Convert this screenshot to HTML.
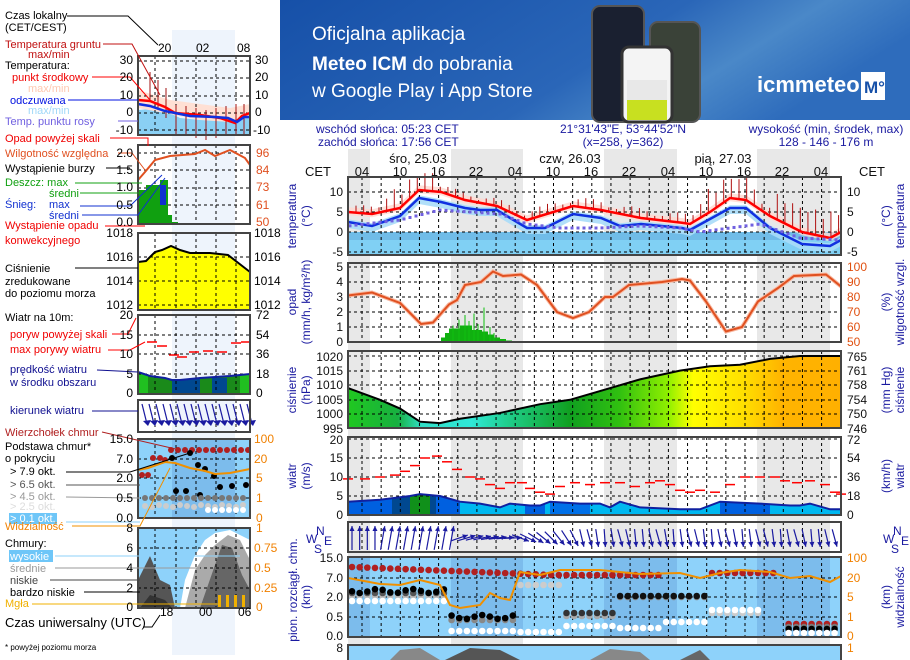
<!DOCTYPE html>
<html><head><meta charset="utf-8"><style>
html,body{margin:0;padding:0;background:#fff;width:910px;height:660px;overflow:hidden}
svg{display:block}
text{font-family:"Liberation Sans",sans-serif}
</style></head><body>
<svg id="s" width="910" height="660" viewBox="0 0 910 660" xmlns="http://www.w3.org/2000/svg">
<defs>
<linearGradient id="ban" x1="0" y1="0" x2="1" y2="0.3"><stop offset="0" stop-color="#1650a8"/><stop offset="0.6" stop-color="#2a66b8"/><stop offset="0.8" stop-color="#4a88c8"/><stop offset="1" stop-color="#2e6cbc"/></linearGradient>
<linearGradient id="pg" x1="348" y1="0" x2="841" y2="0" gradientUnits="userSpaceOnUse">
<stop offset="0" stop-color="#20c820"/><stop offset="0.1" stop-color="#18b040"/><stop offset="0.15" stop-color="#30e0c8"/><stop offset="0.25" stop-color="#30e8d8"/><stop offset="0.32" stop-color="#20d090"/><stop offset="0.45" stop-color="#10a020"/><stop offset="0.55" stop-color="#30c010"/><stop offset="0.65" stop-color="#90f000"/><stop offset="0.7" stop-color="#ffff00"/><stop offset="0.8" stop-color="#ffe000"/><stop offset="0.88" stop-color="#ffb400"/><stop offset="1" stop-color="#ffb000"/></linearGradient>
</defs>
<rect x="0" y="0" width="910" height="660" fill="#fff"/>
<rect x="280" y="0" width="630" height="120" fill="url(#ban)"/>
<text x="312" y="40" font-size="19" fill="#fff">Oficjalna aplikacja</text>
<text x="312" y="70" font-size="19" fill="#fff"><tspan font-weight="bold">Meteo ICM</tspan> do pobrania</text>
<text x="312" y="97" font-size="19" fill="#fff">w Google Play i App Store</text>
<rect x="592" y="6" width="52" height="116" rx="8" fill="#1a2030" stroke="#555" stroke-width="2"/>
<rect x="650" y="22" width="50" height="100" rx="8" fill="#3a4238" stroke="#555" stroke-width="2"/>
<rect x="622" y="47" width="50" height="75" rx="7" fill="#f4f4f4" stroke="#333" stroke-width="3"/>
<rect x="627" y="100" width="40" height="20" fill="#c8e020"/>
<rect x="627" y="80" width="40" height="20" fill="#e8e8e8"/>
<text x="757" y="92" font-size="22" font-weight="bold" fill="#fff">icmmeteo</text>
<rect x="861" y="72" width="24" height="28" fill="#fff"/>
<text x="864" y="93" font-size="17" font-weight="bold" fill="#1650a8">M°</text>
<g id="g"></g>
<g font-size="12" fill="#1a1aa0">
<text x="316" y="133">wschód słońca: 05:23 CET</text>
<text x="318" y="146">zachód słońca: 17:56 CET</text>
<text x="623" y="133" text-anchor="middle">21°31'43"E, 53°44'52"N</text>
<text x="623" y="146" text-anchor="middle">(x=258,  y=362)</text>
<text x="826" y="133" text-anchor="middle">wysokość (min, środek, max)</text>
<text x="826" y="146" text-anchor="middle">128 - 146 - 176 m</text>
</g>
<g font-size="13" fill="#111" text-anchor="middle">
<text x="418" y="163">śro, 25.03</text><text x="570" y="163">czw, 26.03</text><text x="723" y="163">pią, 27.03</text>
<text x="318" y="176">CET</text><text x="872" y="176">CET</text>
<text x="362" y="176">04</text><text x="400" y="176">10</text><text x="438" y="176">16</text><text x="476" y="176">22</text>
<text x="515" y="176">04</text><text x="553" y="176">10</text><text x="591" y="176">16</text><text x="629" y="176">22</text>
<text x="668" y="176">04</text><text x="706" y="176">10</text><text x="744" y="176">16</text><text x="782" y="176">22</text><text x="821" y="176">04</text>
</g>
<g font-size="12" fill="#111" text-anchor="end">
<text x="343" y="196">10</text><text x="343" y="216">5</text><text x="343" y="236">0</text><text x="343" y="256">-5</text>
<text x="343" y="271">5</text><text x="343" y="286">4</text><text x="343" y="301">3</text><text x="343" y="316">2</text><text x="343" y="331">1</text><text x="343" y="346">0</text>
<text x="343" y="361">1020</text><text x="343" y="375">1015</text><text x="343" y="389">1010</text><text x="343" y="404">1005</text><text x="343" y="418">1000</text><text x="343" y="433">995</text>
<text x="343" y="444">20</text><text x="343" y="462">15</text><text x="343" y="481">10</text><text x="343" y="500">5</text><text x="343" y="519">0</text>
<text x="343" y="562">15.0</text><text x="343" y="582">7.0</text><text x="343" y="601">2.0</text><text x="343" y="621">0.5</text><text x="343" y="640">0.0</text>
<text x="343" y="652">8</text>
</g>
<g font-size="12" fill="#111">
<text x="847" y="196">10</text><text x="847" y="216">5</text><text x="847" y="236">0</text><text x="847" y="256">-5</text>
<text x="847" y="361">765</text><text x="847" y="375">761</text><text x="847" y="389">758</text><text x="847" y="404">754</text><text x="847" y="418">750</text><text x="847" y="433">746</text>
<text x="847" y="444">72</text><text x="847" y="462">54</text><text x="847" y="481">36</text><text x="847" y="500">18</text><text x="847" y="519">0</text>
</g>
<g font-size="12" fill="#e05010">
<text x="847" y="271">100</text><text x="847" y="286">90</text><text x="847" y="301">80</text><text x="847" y="316">70</text><text x="847" y="331">60</text><text x="847" y="346">50</text>
</g>
<g font-size="12" fill="#f08000">
<text x="847" y="562">100</text><text x="847" y="582">20</text><text x="847" y="601">5</text><text x="847" y="621">1</text><text x="847" y="640">0</text><text x="847" y="652">1</text>
</g>
<g font-size="12" fill="#1a1aa0" text-anchor="middle">
<text transform="translate(296,216) rotate(-90)">temperatura</text>
<text transform="translate(310,216) rotate(-90)">(°C)</text>
<text transform="translate(296,302) rotate(-90)">opad</text>
<text transform="translate(310,302) rotate(-90)">(mm/h, kg/m²/h)</text>
<text transform="translate(296,390) rotate(-90)">ciśnienie</text>
<text transform="translate(310,390) rotate(-90)">(hPa)</text>
<text transform="translate(296,476) rotate(-90)">wiatr</text>
<text transform="translate(310,476) rotate(-90)">(m/s)</text>
<text transform="translate(297,590) rotate(-90)">pion. rozciągł. chm.</text>
<text transform="translate(310,597) rotate(-90)">(km)</text>
<text transform="translate(890,216) rotate(-90)">(°C)</text>
<text transform="translate(904,216) rotate(-90)">temperatura</text>
<text transform="translate(890,302) rotate(-90)">(%)</text>
<text transform="translate(904,302) rotate(-90)">wilgotność wzgl.</text>
<text transform="translate(890,390) rotate(-90)">(mm Hg)</text>
<text transform="translate(904,390) rotate(-90)">ciśnienie</text>
<text transform="translate(890,476) rotate(-90)">(km/h)</text>
<text transform="translate(904,476) rotate(-90)">wiatr</text>
<text transform="translate(890,597) rotate(-90)">(km)</text>
<text transform="translate(904,597) rotate(-90)">widzialność</text>
</g>
<g font-size="12" fill="#1a1aa0"><text x="306" y="543">W</text><text x="316" y="535">N</text><text x="314" y="553">S</text><text x="324" y="545">E</text>
<text x="883" y="543">W</text><text x="893" y="535">N</text><text x="891" y="553">S</text><text x="901" y="545">E</text></g>
<g font-size="11" fill="#000">
<text x="5" y="19">Czas lokalny</text><text x="5" y="31">(CET/CEST)</text>
<text x="158" y="52" font-size="12">20</text><text x="196" y="52" font-size="12">02</text><text x="237" y="52" font-size="12">08</text>
<text x="5" y="48" fill="#c01010">Temperatura gruntu</text><text x="28" y="58" fill="#c01010">max/min</text>
<text x="5" y="69">Temperatura:</text>
<text x="12" y="81" fill="#f00000">punkt środkowy</text>
<text x="28" y="92" fill="#ffc8b0">max/min</text>
<text x="10" y="104" fill="#0010e0">odczuwana</text>
<text x="28" y="114" fill="#a0d8f8">max/min</text>
<text x="5" y="125" fill="#7060e0">Temp. punktu rosy</text>
<text x="5" y="142" fill="#f00000">Opad powyżej skali</text>
<text x="5" y="157" fill="#e05020">Wilgotność względna</text>
<text x="5" y="172">Wystąpienie burzy</text>
<text x="5" y="186" fill="#10a010">Deszcz: max</text><text x="49" y="197" fill="#10a010">średni</text>
<text x="5" y="208" fill="#1030d0">Śnieg:</text><text x="49" y="208" fill="#1030d0">max</text><text x="49" y="219" fill="#1030d0">średni</text>
<text x="5" y="229" fill="#f00000">Wystąpienie opadu</text><text x="5" y="244" fill="#f00000">konwekcyjnego</text>
<text x="5" y="272">Ciśnienie</text><text x="5" y="285">zredukowane</text><text x="5" y="297">do poziomu morza</text>
<text x="5" y="321">Wiatr na 10m:</text>
<text x="10" y="338" fill="#f00000">poryw powyżej skali</text><text x="10" y="353" fill="#f00000">max porywy wiatru</text>
<text x="10" y="373" fill="#101090">prędkość wiatru</text><text x="10" y="386" fill="#101090">w środku obszaru</text>
<text x="10" y="414" fill="#101090">kierunek wiatru</text>
<text x="5" y="436" fill="#b02020">Wierzchołek chmur</text>
<text x="5" y="450">Podstawa chmur*</text><text x="5" y="462">o pokryciu</text>
<text x="10" y="475">&gt; 7.9 okt.</text>
<text x="10" y="488" fill="#555">&gt; 6.5 okt.</text>
<text x="10" y="500" fill="#999">&gt; 4.5 okt.</text>
<text x="10" y="510" fill="#ddd">&gt; 2.5 okt.</text>
<rect x="9" y="513" width="48" height="11" fill="#6ec6f8"/><text x="10" y="522" fill="#fff">&gt; 0.1 okt.</text>
<text x="5" y="530" fill="#f08000">Widzialność</text>
<text x="5" y="547">Chmury:</text>
<rect x="9" y="550" width="44" height="12" fill="#6ec6f8"/><text x="10" y="560" fill="#fff">wysokie</text>
<text x="10" y="572" fill="#999">średnie</text>
<text x="10" y="584" fill="#444">niskie</text>
<text x="10" y="596">bardzo niskie</text>
<text x="5" y="607" fill="#f0b000">Mgła</text>
<text x="160" y="616" font-size="12">18</text><text x="199" y="616" font-size="12">00</text><text x="238" y="616" font-size="12">06</text>
<text x="5" y="627" font-size="13">Czas uniwersalny (UTC)</text>
<text x="5" y="650" font-size="8">* powyżej poziomu morza</text>
</g>
<g font-size="12" fill="#000" text-anchor="end">
<text x="133" y="64">30</text><text x="133" y="81">20</text><text x="133" y="99">10</text><text x="133" y="116">0</text><text x="133" y="134">-10</text>
<text x="133" y="157">2.0</text><text x="133" y="174">1.5</text><text x="133" y="191">1.0</text><text x="133" y="209">0.5</text><text x="133" y="226">0.0</text>
<text x="133" y="237">1018</text><text x="133" y="261">1016</text><text x="133" y="285">1014</text><text x="133" y="309">1012</text>
<text x="133" y="319">20</text><text x="133" y="339">15</text><text x="133" y="358">10</text><text x="133" y="378">5</text><text x="133" y="397">0</text>
<text x="133" y="443">15.0</text><text x="133" y="463">7.0</text><text x="133" y="482">2.0</text><text x="133" y="502">0.5</text><text x="133" y="522">0.0</text>
<text x="133" y="532">8</text><text x="133" y="552">6</text><text x="133" y="572">4</text><text x="133" y="592">2</text><text x="133" y="611">0</text>
</g>
<g font-size="12" fill="#000">
<text x="255" y="64">30</text><text x="255" y="81">20</text><text x="255" y="99">10</text><text x="255" y="116">0</text><text x="253" y="134">-10</text>
<text x="254" y="237">1018</text><text x="254" y="261">1016</text><text x="254" y="285">1014</text><text x="254" y="309">1012</text>
<text x="256" y="319">72</text><text x="256" y="339">54</text><text x="256" y="358">36</text><text x="256" y="378">18</text><text x="256" y="397">0</text>
</g>
<g font-size="12" fill="#e05020"><text x="256" y="157">96</text><text x="256" y="174">84</text><text x="256" y="191">73</text><text x="256" y="209">61</text><text x="256" y="226">50</text></g>
<g font-size="12" fill="#f08000"><text x="254" y="443">100</text><text x="254" y="463">20</text><text x="256" y="482">5</text><text x="256" y="502">1</text><text x="256" y="522">0</text>
<text x="256" y="532">1</text><text x="254" y="552">0.75</text><text x="254" y="572">0.5</text><text x="254" y="592">0.25</text><text x="256" y="611">0</text></g>
</svg>
<script>
var NS="http://www.w3.org/2000/svg",G=document.getElementById('g');
function el(t,a,p){var e=document.createElementNS(NS,t);for(var k in a)e.setAttribute(k,a[k]);(p||G).appendChild(e);return e}
function pts(a,f){return a.map(function(p){return p[0]+','+f(p[1])}).join(' ')}
function interp(a,x){for(var i=0;i<a.length-1;i++){if(x>=a[i][0]&&x<=a[i+1][0]){var t=(x-a[i][0])/(a[i+1][0]-a[i][0]);return a[i][1]+t*(a[i+1][1]-a[i][1])}}return a[a.length-1][1]}
var L=348,R=841;
[[348,370],[451,523],[604,677],[757,830]].forEach(function(b){el('rect',{x:b[0],y:149,width:b[1]-b[0],height:511,fill:'#e8e8e8'})});
el('rect',{x:172,y:30,width:63,height:625,fill:'#eef4fc'});
function grid(y0,y1,hs){
 for(var k=0;k<26;k++){var x=362+19.15*k;if(x<R)el('line',{x1:x,y1:y0,x2:x,y2:y1,stroke:'#000','stroke-dasharray':'3,3','stroke-width':1})}
 hs.forEach(function(y){el('line',{x1:L,y1:y,x2:R,y2:y,stroke:'#000','stroke-dasharray':'3,3','stroke-width':1})});
}
function frame(y0,y1,x0,x1){el('rect',{x:x0||L,y:y0,width:(x1||R)-(x0||L),height:y1-y0,fill:'none',stroke:'#444','stroke-width':2})}
var tY=function(t){return 232-4*t};
el('rect',{x:L,y:232,width:R-L,height:23,fill:'#80d0f4'});
el('rect',{x:L,y:232,width:R-L,height:8,fill:'#70bce8'});
var red=[[348,5],[372,4.5],[400,6],[419,10.5],[441,10],[465,8],[497,6.5],[527,3],[573,6.5],[601,5.5],[641,3.5],[682,2.3],[690,2],[710,5],[730,8.5],[746,8],[770,4],[802,0],[830,-1.5],[841,0]];
var blue=[[348,2.5],[372,1.5],[400,4],[419,8.5],[441,7.5],[465,6],[480,5.5],[497,5.5],[500,5],[527,1],[545,1],[573,4.5],[601,3.5],[620,1.5],[641,2],[682,1],[690,0.5],[730,6],[746,6],[770,1],[802,-3],[830,-3.5],[841,-2]];
el('polygon',{points:pts(red,function(v){return tY(v+1.2)})+' '+pts(red.slice().reverse(),function(v){return tY(v-0.8)}),fill:'#ffd8d0',opacity:0.8});
el('polygon',{points:pts(blue,function(v){return tY(v+0.7)})+' '+pts(blue.slice().reverse(),function(v){return tY(v-1.5)}),fill:'#a8dcf8',opacity:0.9});
grid(177,255,[192,212,232,252]);
for(var x=356;x<R;x+=7.66){var t=interp(red,x);var up;
 if(x>380&&x<440)up=2.5+Math.abs(Math.sin(x))*2.5;else if(x>700&&x<760)up=3+Math.abs(Math.sin(x))*3;else if(x>770)up=4+Math.abs(Math.sin(x))*2.5;else if(x>520&&x<700)up=0.5+Math.abs(Math.sin(x*1.3))*2;else up=0.5+Math.abs(Math.sin(x*1.3))*1.5;
 el('line',{x1:x,y1:tY(t),x2:x,y2:tY(t+up),stroke:'#b01010','stroke-width':1})}
el('polyline',{points:pts(red,tY),fill:'none',stroke:'#f00','stroke-width':2.5});
el('polyline',{points:pts(blue,tY),fill:'none',stroke:'#1030e0','stroke-width':2.5});
var dew=[[348,1.5],[400,3],[440,5.5],[470,5],[500,4.5],[527,2],[560,1],[600,1],[640,1.5],[680,1],[700,0],[760,2],[800,-1.5],[841,-2]];
for(var x=350;x<R;x+=6){el('rect',{x:x-1.5,y:tY(interp(dew,x))-1.5,width:3,height:3,fill:'#7060e0'})}
frame(177,255);
var hY=function(h){return 342-(h-50)*1.5};
grid(263,342,[267,282,297,312,327]);
var pr=[[441,0.3],[445,0.6],[449,0.9],[455,0.9],[460,1.1],[466,1.1],[470,0.8],[476,0.8],[482,0.7],[488,0.5],[494,0.3],[500,0.2],[506,0.1]];
pr.forEach(function(p){el('rect',{x:p[0],y:342-15*p[1],width:6,height:15*p[1],fill:'#10b010'})});
[[453,1.1],[459,1.5],[465,1.8],[469,1.4],[474,1.9],[478,1.2],[484,2.3],[490,1.0],[494,0.6],[505,0.2]].forEach(function(p){el('line',{x1:p[0],y1:342,x2:p[0],y2:342-15*p[1],stroke:'#10c010','stroke-width':1})});
var hum=[[348,81],[372,83],[388,79],[400,76],[421,62],[433,63],[449,75],[457,78],[465,88],[481,90],[493,97],[503,94],[521,95],[537,88],[557,70],[573,66],[589,70],[605,80],[613,80],[629,88],[662,90],[682,92],[690,91],[706,77],[726,57],[742,60],[758,77],[778,86],[794,94],[826,95],[841,87]];
el('polyline',{points:pts(hum,hY),fill:'none',stroke:'#f8b8a0','stroke-width':4});
el('polyline',{points:pts(hum,hY),fill:'none',stroke:'#e05020','stroke-width':2});
frame(263,342);
var pY=function(p){return 356+(1020-p)*2.92};
var pre=[[348,1009],[380,1005],[400,1002],[420,997.5],[440,997],[460,998.5],[500,1000.5],[540,1003.5],[570,1005],[600,1008],[640,1012],[680,1015],[710,1016.5],[740,1017],[770,1019],[800,1020],[841,1020]];
el('polygon',{points:pts(pre,pY)+' 841,428 348,428',fill:'url(#pg)'});
grid(351,428,[356,371,385,400,414]);
el('polyline',{points:pts(pre,pY),fill:'none',stroke:'#000','stroke-width':2});
frame(351,428);
var wY=function(w){return 515-3.8*w};
var ws=[[348,3.5],[380,4],[410,5],[420,5.5],[440,5],[460,3.5],[480,3],[490,2.5],[500,2],[510,3],[530,2.5],[540,2.5],[550,3.5],[580,3],[600,3],[610,2],[620,3.5],[640,2],[680,1.5],[700,1.5],[720,3.5],[760,3],[790,2.5],[800,2.5],[810,3],[830,1.5],[841,1.5]];
el('polygon',{points:pts(ws,wY)+' 841,515 348,515',fill:'#00b8f0'});
[[348,460,'#0060e0'],[392,410,'#004890'],[410,430,'#10901a'],[430,436,'#004890'],[525,545,'#0060e0'],[550,590,'#0070e8'],[720,770,'#0060e0']].forEach(function(c){var p=ws.filter(function(q){return q[0]>=c[0]&&q[0]<=c[1]});var pp=[[c[0],interp(ws,c[0])]].concat(p,[[c[1],interp(ws,c[1])]]);el('polygon',{points:pts(pp,wY)+' '+c[1]+',515 '+c[0]+',515',fill:c[2]})});
grid(437,515,[439,458,477,496]);
el('polyline',{points:pts(ws,wY),fill:'none',stroke:'#1020a0','stroke-width':2});
var gu=[[348,9.5],[365,9.5],[380,10],[395,10.5],[405,11.5],[415,13],[425,15],[437,15.5],[447,14],[457,12],[470,10],[480,9.5],[490,8],[500,7],[510,8.5],[522,8.5],[530,7],[540,6],[550,5.5],[560,7.5],[575,8.5],[590,8],[605,8.5],[620,8.5],[635,7.5],[650,8.5],[660,9],[670,8],[680,6.5],[690,6],[700,6.5],[715,6],[730,8],[745,10],[760,10],[775,10],[785,9],[797,8.5],[810,9],[825,8],[835,6],[841,5.5]];
gu.forEach(function(p){el('line',{x1:p[0]-5,y1:wY(p[1]),x2:p[0]+5,y2:wY(p[1]),stroke:'#f00','stroke-width':1.5})});
frame(437,515);
grid(522,552,[]);
for(var x=352;x<R;x+=7.66){var a;if(x<455)a=-80-(x<380?10:0);else if(x<520)a=-20+(x-455)*0.3;else if(x<580)a=20+(x-520)*0.8;else a=80+Math.sin(x)*6;
 var r=a*Math.PI/180,cx=x,cy=538,dx=Math.cos(r)*9,dy=Math.sin(r)*9;
 if(x<455){dx=Math.cos(r)*12;dy=Math.sin(r)*12}
 el('line',{x1:cx-dx,y1:cy-dy,x2:cx+dx,y2:cy+dy,stroke:'#1a1aa0','stroke-width':1.2});
 var hx=cx+dx,hy=cy+dy,ux=dx/Math.hypot(dx,dy),uy=dy/Math.hypot(dx,dy);
 el('polygon',{points:hx+','+hy+' '+(hx-ux*5-uy*2.5)+','+(hy-uy*5+ux*2.5)+' '+(hx-ux*5+uy*2.5)+','+(hy-uy*5-ux*2.5),fill:'#1a1aa0'});}
frame(522,552);
el('rect',{x:L,y:557,width:R-L,height:80,fill:'#8ed2fa'});
[[348,370],[451,523],[604,677],[757,830]].forEach(function(b){el('rect',{x:b[0],y:557,width:b[1]-b[0],height:80,fill:'#7cbcec'})});
grid(557,637,[578,597,617]);
function dot(x,y,c,r){el('circle',{cx:x,cy:y,r:r||3.3,fill:c})}
for(var x=352;x<R;x+=7.66){
 if(x<665)dot(x,567+Math.min(8,(x-352)/25),'#b02020');
 else if(x>705&&x<775)dot(x,573,'#b02020');
 if(x<445){dot(x,596,'#bbb');dot(x,593,'#555');dot(x,591+Math.sin(x)*2,'#000');dot(x,601,'#fff')}
 else if(x<520){dot(x,620,'#888');dot(x,617+Math.sin(x)*2,'#000');dot(x,631,'#fff')}
 else if(x<560){dot(x,585,'#ccc');dot(x,632,'#fff')}
 else if(x<620){dot(x,616,'#aaa');dot(x,613,'#333');dot(x,626,'#fff')}
 else if(x<705){dot(x,597,'#888');dot(x,596,'#111');dot(x,628-(x>660?6:0),'#fff')}
 else if(x<760){dot(x,613,'#ccc');dot(x,610,'#fff')}
 else if(x>788){dot(x,624,'#b02020');dot(x,627,'#777');dot(x,629,'#000');dot(x,633,'#fff')}
}
var vis=[[348,578],[380,584],[400,585],[420,580],[440,585],[450,605],[460,608],[480,605],[490,593],[500,598],[510,600],[520,572],[540,575],[560,570],[600,570],[640,574],[680,573],[700,578],[720,573],[740,570],[770,572],[790,578],[810,576],[830,582],[841,576]];
el('polyline',{points:vis.map(function(p){return p.join(',')}).join(' '),fill:'none',stroke:'#f09000','stroke-width':2});
frame(557,637);
el('rect',{x:L,y:645,width:R-L,height:20,fill:'#8ed2fa'});
el('polygon',{points:'390,660 400,650 420,648 440,660',fill:'#888'});
el('polygon',{points:'445,660 470,648 500,650 520,660',fill:'#555'});
el('polygon',{points:'590,660 610,649 640,652 650,660',fill:'#888'});
el('polygon',{points:'680,660 700,650 710,660',fill:'#666'});
el('rect',{x:L,y:645,width:R-L,height:20,fill:'none',stroke:'#444','stroke-width':2});
var mL=138,mR=250;
function mgrid(y0,y1,hs){[155,176,196,216,236].forEach(function(x){el('line',{x1:x,y1:y0,x2:x,y2:y1,stroke:'#000','stroke-dasharray':'3,3'})});hs.forEach(function(y){el('line',{x1:mL,y1:y,x2:mR,y2:y,stroke:'#000','stroke-dasharray':'3,3'})})}
el('polygon',{points:'138,110 160,108 180,118 200,120 230,120 250,116 250,135 138,135',fill:'#8ad0f4'});
el('polygon',{points:'138,90 170,100 200,104 230,108 250,104 250,116 230,122 200,120 170,114 138,108',fill:'#ffe0d4'});
mgrid(56,135,[61,78,96,113,130]);
[[150,72],[158,80],[166,88],[176,105],[186,106],[196,108],[206,110],[216,108],[226,106],[236,104],[244,104]].forEach(function(p){el('line',{x1:p[0],y1:p[1],x2:p[0],y2:p[1]+30,stroke:'#a01010'})});
el('polyline',{points:'138,100 150,101 165,107 175,113 200,115 220,118 235,123 242,116 250,113',fill:'none',stroke:'#f00','stroke-width':2.5});
el('polyline',{points:'138,104 150,106 165,111 175,113 190,116 215,117 228,118 237,122 244,117 250,117',fill:'none',stroke:'#1030e0','stroke-width':2.5});
frame(56,135,mL,mR);
mgrid(145,224,[153,170,188,205]);
el('polygon',{points:'138,224 138,190 146,190 146,185 160,185 160,180 168,180 168,215 172,215 172,222 178,222 178,224',fill:'#10a010'});
el('rect',{x:160,y:185,width:6,height:20,fill:'#1030d0'});
el('polyline',{points:'138,180 145,172 155,160 170,156 195,154 205,150 215,156 230,150 245,158 250,165',fill:'none',stroke:'#e05020','stroke-width':2});
frame(145,224,mL,mR);
el('polygon',{points:'138,262 146,261 155,252 162,250 171,246 180,250 190,253 210,253 228,255 250,272 250,310 138,310',fill:'#ffff00'});
mgrid(233,310,[257,281,305]);
el('polyline',{points:'138,262 146,261 155,252 162,250 171,246 180,250 190,253 210,253 228,255 250,272',fill:'none',stroke:'#000','stroke-width':2});
frame(233,310,mL,mR);
el('polygon',{points:'138,372 150,376 165,378 172,380 180,380 200,378 230,376 250,374 250,394 138,394',fill:'#1a8a1a'});
el('rect',{x:138,y:374,width:10,height:20,fill:'#20c020'});el('rect',{x:240,y:374,width:10,height:20,fill:'#20c020'});
el('rect',{x:172,y:379,width:28,height:15,fill:'#004890'});el('rect',{x:212,y:378,width:15,height:16,fill:'#004890'});
mgrid(315,394,[335,354,374]);
el('polyline',{points:'138,372 150,376 165,378 172,380 180,380 200,378 230,376 250,374',fill:'none',stroke:'#1020a0','stroke-width':2});
[[152,342],[162,346],[174,355],[182,357],[194,352],[208,351],[222,352],[236,343],[246,342]].forEach(function(p){el('line',{x1:p[0]-5,y1:p[1],x2:p[0]+5,y2:p[1],stroke:'#f00','stroke-width':1.5})});
frame(315,394,mL,mR);
mgrid(400,432,[]);
for(var x=142;x<mR;x+=7){el('line',{x1:x,y1:404,x2:x+5,y2:424,stroke:'#1a1aa0','stroke-width':1.2});el('polygon',{points:(x+6)+',426 '+(x+1)+',421 '+(x+9)+',420',fill:'#1a1aa0'})}
frame(400,432,mL,mR);
el('rect',{x:mL,y:439,width:mR-mL,height:79,fill:'#8ed2fa'});el('rect',{x:172,y:439,width:63,height:79,fill:'#7cbcec'});
mgrid(439,518,[459,478,498]);
for(var x=171;x<mR;x+=7)dot(x,450,'#b02020',3);
[[142,475],[148,475],[153,458],[160,458],[165,460]].forEach(function(p){dot(p[0],p[1],'#b02020',3)});
[[172,458],[190,453],[198,465],[205,469],[214,476],[220,487],[176,491],[186,491],[200,495],[232,486],[246,485]].forEach(function(p){dot(p[0],p[1],'#000',3)});
for(var x=145;x<mR;x+=7){dot(x,498,'#777',3);dot(x,505+(x%3),'#ccc',3);if(x>205)dot(x,510,'#fff',3)}
el('polyline',{points:'138,470 148,468 165,462 175,463 190,468 205,471 215,474 230,473 250,469',fill:'none',stroke:'#f09000','stroke-width':2});
frame(439,518,mL,mR);
el('rect',{x:mL,y:528,width:mR-mL,height:80,fill:'#8ed2fa'});
el('polygon',{points:'180,608 185,580 195,555 205,540 215,533 230,530 250,540 250,608',fill:'#fff'});
el('polygon',{points:'185,608 195,570 205,555 215,545 228,535 240,540 250,560 250,608',fill:'#aaa'});
el('polygon',{points:'200,608 215,565 222,545 232,548 242,575 250,590 250,608',fill:'#666'});
el('polygon',{points:'138,608 138,580 150,556 160,580 170,585 175,608',fill:'#555'});
el('polygon',{points:'140,608 150,595 165,600 172,608',fill:'#333'});
mgrid(528,608,[548,568,588]);
[218,226,234,242].forEach(function(x){el('rect',{x:x,y:595,width:3,height:13,fill:'#f0b000'})});
frame(528,608,mL,mR);
function ln(p,c){el('polyline',{points:p,fill:'none',stroke:c,'stroke-width':1})}
ln('67,16 128,16 158,45','#000');ln('103,44 132,44 160,95','#c01010');ln('92,77 130,77 150,100','#f00');ln('68,100 138,100','#0010e0');ln('118,121 138,121','#7060e0');
ln('110,138 148,138 148,146','#f00');ln('118,153 132,153 145,170','#e05020');ln('106,168 130,168','#000');
ln('75,183 142,183','#10a010');ln('80,193 150,193','#10a010');ln('80,206 130,206 162,175','#1030d0');ln('82,215 138,215 165,178','#1030d0');
ln('105,226 145,226','#f00');ln('75,268 138,268','#000');ln('112,334 128,334 136,318','#f00');ln('108,350 130,350 145,342','#f00');
ln('97,370 138,372','#101090');ln('92,411 138,411','#101090');ln('102,432 180,450','#b02020');ln('66,472 130,472 190,453','#000');
ln('66,485 140,485','#555');ln('66,497 140,498','#999');ln('66,522 140,522','#8ed2fa');ln('72,526 140,526 170,468','#f09000');
ln('55,556 240,556','#8ed2fa');ln('55,568 200,568','#999');ln('50,580 140,580','#444');ln('84,592 140,592','#000');ln('32,604 218,604','#f0b000');
ln('143,627 152,627 160,615','#000');
</script>
</body></html>
